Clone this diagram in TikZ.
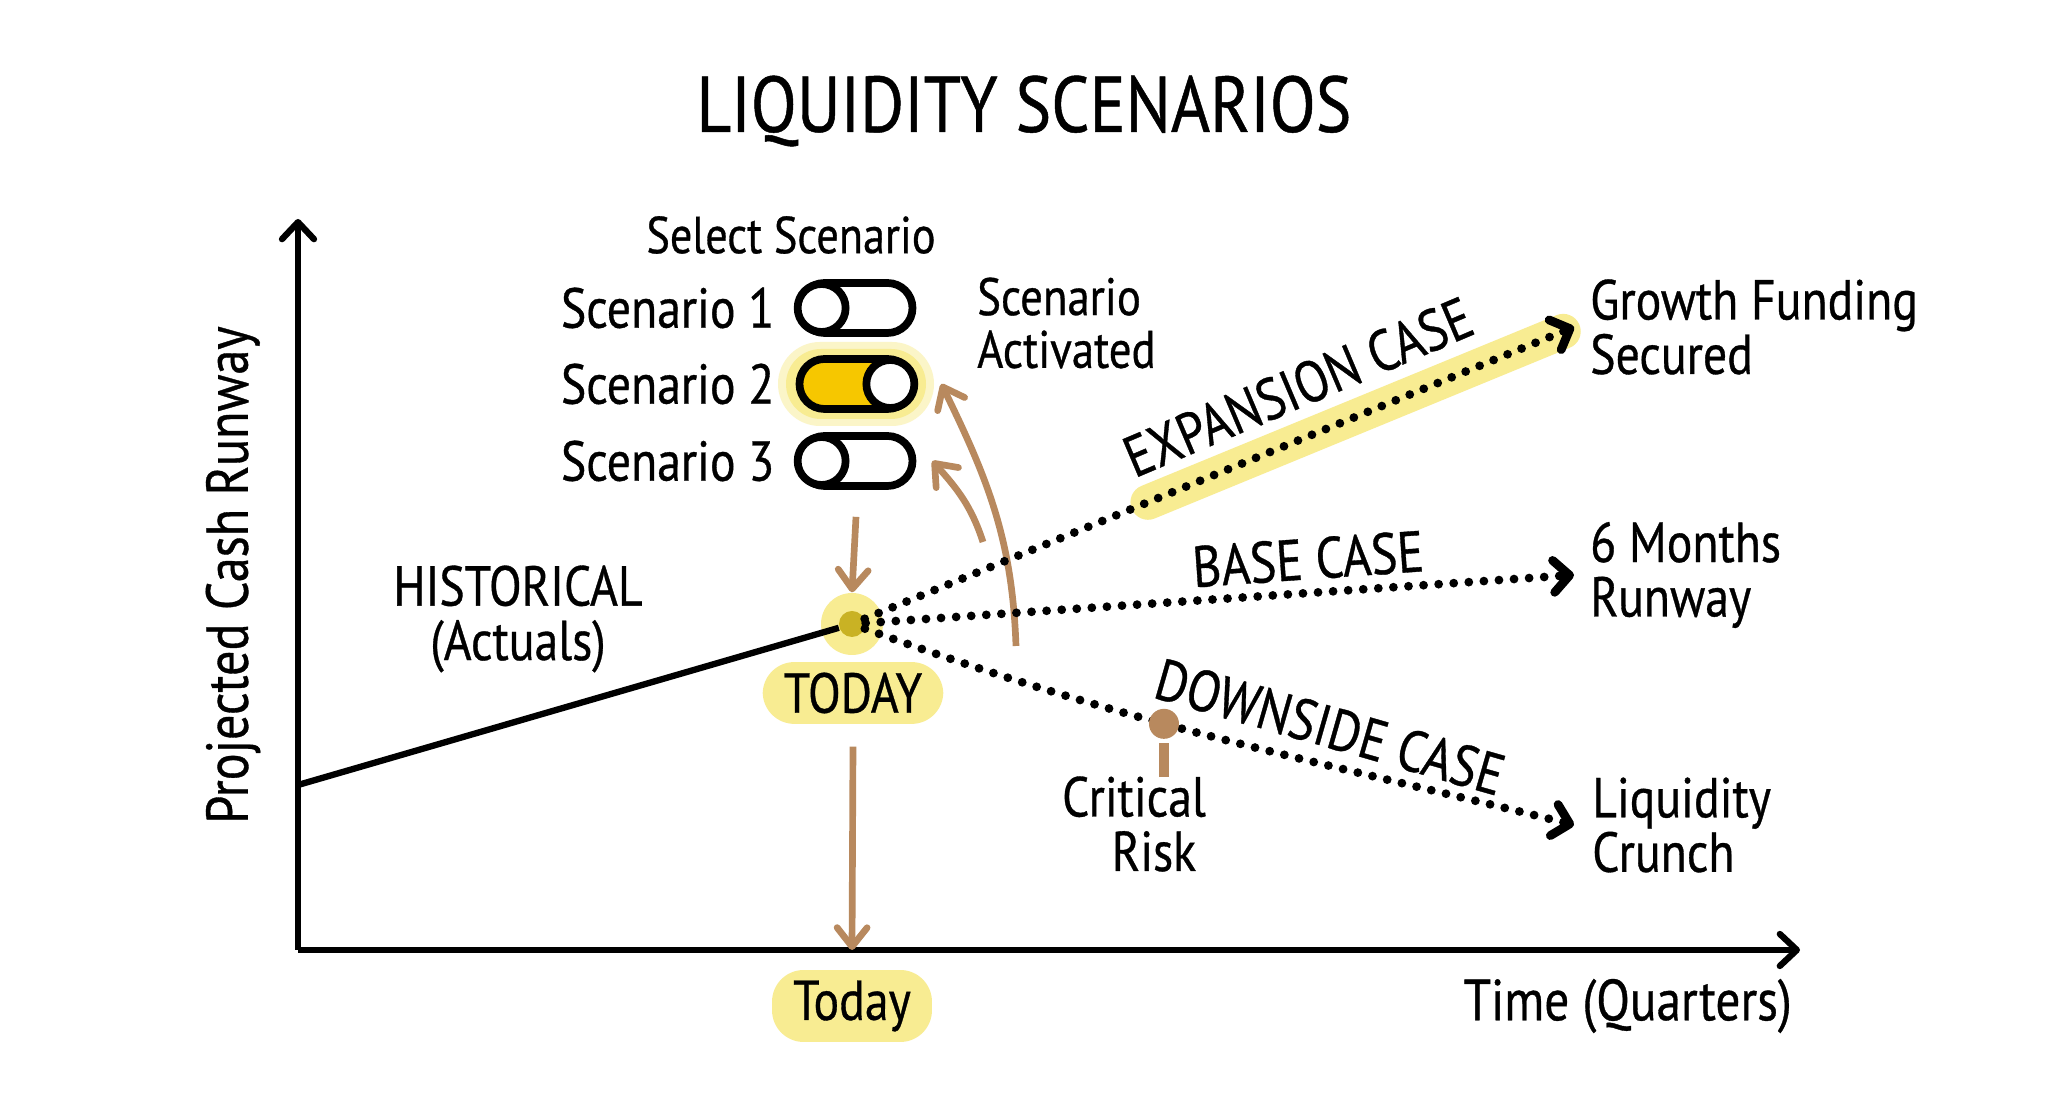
\documentclass[tikz,border=0pt]{standalone}
\usepackage{fontspec}
\setmainfont{PT Sans}[FakeStretch=0.85, FakeBold=0.6]
\usepackage{xcolor}
\usetikzlibrary{positioning,arrows.meta,calc}

\definecolor{hlyellow}{HTML}{F8EC92}
\definecolor{knobgold}{HTML}{F6C700}
\definecolor{dotolive}{HTML}{C9B224}
\definecolor{brn}{HTML}{B8895E}

\tikzset{
  lbl/.style={font=\fontsize{16}{15.5}\selectfont, inner sep=1pt},
  caselbl/.style={font=\fontsize{16.5}{16}\selectfont, inner sep=1pt},
  axisline/.style={line width=1.8pt, -{Straight Barb[length=1.7mm, width=3.2mm, round]}},
  dotpath/.style={line width=2.5pt, line cap=round, dash pattern=on 0pt off 4.3pt,
    -{Straight Barb[length=1.6mm, width=3.2mm, round]}},
  brarrow/.style={brn, line width=1.9pt, -{Straight Barb[length=1.9mm, width=3mm, round]}},
  toggle/.style={draw, line width=2.2pt, rounded corners=0.25cm, minimum width=1.13cm,
    minimum height=0.5cm, inner sep=0pt},
  knob/.style={draw, fill=white, line width=2.2pt, circle, minimum size=0.48cm, inner sep=0pt},
  hlbox/.style={fill=hlyellow, rounded corners=9pt, inner xsep=6pt, inner ysep=3pt}
}

\begin{document}
\begin{tikzpicture}
  \fill[white] (0,0) rectangle (20.48,11.17);
  \useasboundingbox (0,0) rectangle (20.48,11.17);

  % Title
  \node[font=\fontsize{22.5}{24}\selectfont] (title) at (10.24,10.06) {LIQUIDITY SCENARIOS};

  % Axes
  \coordinate (origin) at (2.98,1.67);
  \coordinate (ytop) at (2.98,8.98);
  \coordinate (xend) at (18.0,1.67);
  \coordinate (xtoday) at (8.52,1.67);
  \draw[axisline] (origin) -- (ytop);
  \draw[axisline] (origin) -- (xend);
  \node[font=\fontsize{16.8}{16}\selectfont, inner sep=1pt, rotate=90] (ylab) at (2.33,5.42) {Projected Cash Runway};
  \node[font=\fontsize{16.5}{16}\selectfont, inner sep=1pt, anchor=east] (xlab) at (17.96,1.11) {Time (Quarters)};
  \node[lbl, hlbox] (todayaxis) at (8.52,1.11) {Today};

  % Today marker
  \node[circle, fill=hlyellow, minimum size=0.62cm, inner sep=0pt] (glow) at (8.52,4.93) {};
  \node[circle, fill=dotolive, minimum size=0.26cm, inner sep=0pt] (today) at (8.52,4.93) {};
  \node[lbl, hlbox] (todaylbl) at (8.53,4.24) {TODAY};
  \draw[brarrow] ([yshift=-0.22cm]todaylbl.south) -- (xtoday);

  % Historical
  \coordinate (histstart) at (2.98,3.32);
  \draw[line width=1.8pt] (histstart) -- (today);
  \node[lbl, align=center] (hist) at (5.18,4.98) {HISTORICAL\\(Actuals)};

  % Scenario switches
  \node[font=\fontsize{14.8}{14}\selectfont] (select) at (7.91,8.82) {Select Scenario};
  \foreach \i/\y in {1/8.09, 2/7.33, 3/6.56} {
    \ifnum\i=2
      \fill[hlyellow, opacity=0.5, rounded corners=0.42cm] (8.56-0.78,\y-0.42) rectangle (8.56+0.78,\y+0.42);
      \fill[hlyellow, rounded corners=0.35cm] (8.56-0.7,\y-0.35) rectangle (8.56+0.7,\y+0.35);
      \node[toggle, fill=knobgold] (tog\i) at (8.56,\y) {};
      \node[knob] (knob\i) at ($(tog\i.east)+(-0.26,0)$) {};
    \else
      \node[toggle] (tog\i) at (8.56,\y) {};
      \node[knob] (knob\i) at ($(tog\i.west)+(0.26,0)$) {};
    \fi
    \node[lbl, left=0.17cm of tog\i] (scen\i) {Scenario \i};
  }
  \node[font=\fontsize{15}{15}\selectfont, inner sep=1pt, align=left, anchor=west] (activated) at (9.73,7.94) {Scenario\\Activated};

  % Brown arrows
  \draw[brarrow] ([yshift=-0.27cm]tog3.south) -- (glow.north);
  \coordinate (bend1) at (10.16,4.71);
  \coordinate (bend2) at (9.83,5.75);
  \draw[brarrow] (bend1) to[out=92, in=-64] ([xshift=0.25cm]tog2.east);
  \draw[brarrow] (bend2) to[out=108, in=-48] ([xshift=0.16cm]tog3.east);

  % Scenario paths
  \coordinate (expend) at (15.74,7.90);
  \coordinate (baseend) at (15.74,5.42);
  \coordinate (downend) at (15.74,2.92);
  \draw[hlyellow, line width=10pt, line cap=round]
    ($(today)!0.41!(expend)$) -- ($(today)!0.985!(expend)$);
  \draw[dotpath] (today) -- (expend);
  \draw[dotpath] (today) -- (baseend);
  \draw[dotpath] (today) to[out=-20, in=166]
    node[pos=0.42, circle, fill=brn, minimum size=0.3cm, inner sep=0pt] (crit) {} (downend);
  \draw[brn, line width=2.6pt] (crit.south) -- ++(0,-0.34) coordinate (stemend);

  \node[caselbl, rotate=23] (explbl) at (12.98,7.30) {EXPANSION CASE};
  \node[caselbl, rotate=4] (baselbl) at (13.08,5.58) {BASE CASE};
  \node[caselbl, rotate=-16] (downlbl) at (13.30,3.90) {DOWNSIDE CASE};
  \node[lbl, align=center, anchor=north] (critlbl) at ([xshift=-0.3cm,yshift=0.05cm]stemend) {Critical\\\hspace*{0.4cm}Risk};

  % Outcomes
  \node[lbl, align=left, right=0.12cm of expend] (growth) {Growth Funding\\Secured};
  \node[lbl, align=left, right=0.12cm of baseend] (months) {6 Months\\Runway};
  \node[lbl, align=left, right=0.14cm of downend] (crunch) {Liquidity\\Crunch};

\end{tikzpicture}
\end{document}
